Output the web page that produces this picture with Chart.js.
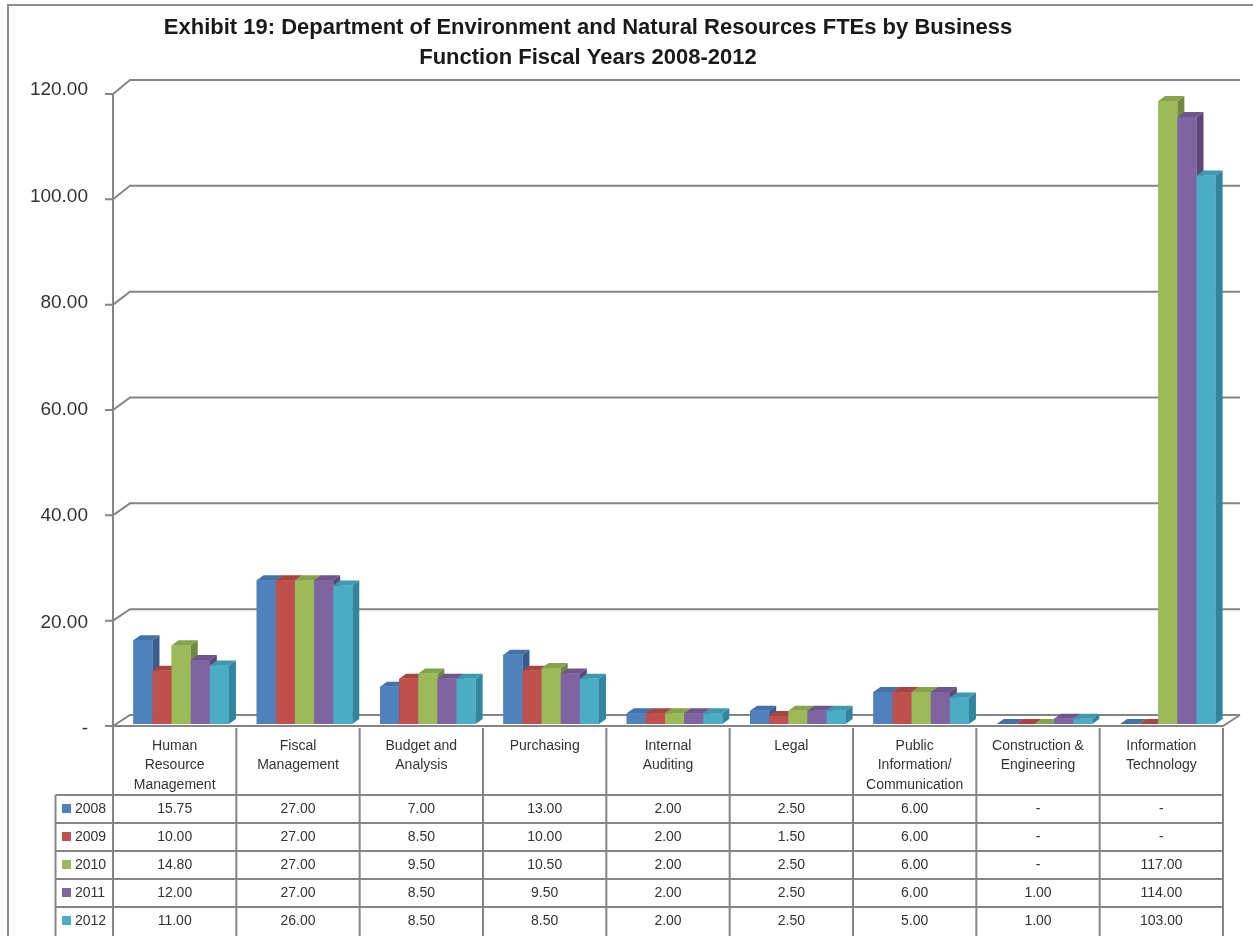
<!DOCTYPE html>
<html>
<head>
<meta charset="utf-8">
<script src="https://cdn.jsdelivr.net/npm/chart.js@4.4.1/dist/chart.umd.min.js"></script>
<style>
  body { margin: 0; background: #fff; }
</style>
</head>
<body>
<canvas id="fte" width="1253" height="936"></canvas>
<script>
const categories = [
  ["Human", "Resource", "Management"],
  ["Fiscal", "Management"],
  ["Budget and", "Analysis"],
  ["Purchasing"],
  ["Internal", "Auditing"],
  ["Legal"],
  ["Public", "Information/", "Communication"],
  ["Construction &", "Engineering"],
  ["Information", "Technology"]
];
const years = ["2008", "2009", "2010", "2011", "2012"];
const fte2008 = [15.75, 27, 7, 13, 2, 2.5, 6, 0, 0];
const fte2009 = [10, 27, 8.5, 10, 2, 1.5, 6, 0, 0];
const fte2010 = [14.8, 27, 9.5, 10.5, 2, 2.5, 6, 0, 117];
const fte2011 = [12, 27, 8.5, 9.5, 2, 2.5, 6, 1, 114];
const fte2012 = [11, 26, 8.5, 8.5, 2, 2.5, 5, 1, 103];
const yMax = 120;
const yStep = 20;

const titleLines = [
  "Exhibit 19: Department of Environment and Natural Resources FTEs by Business",
  "Function Fiscal Years 2008-2012"
];

const fronts = ["#4f81bd", "#c0504d", "#9bbb59", "#8064a2", "#4bacc6"];
const sides = ["#385d8a", "#8c3a38", "#71893f", "#5c4776", "#31859c"];
const tops = ["#4471a8", "#a84542", "#86a34c", "#6e568c", "#3f98b0"];

const series = [fte2008, fte2009, fte2010, fte2011, fte2012];
const LINE = "#858585";
const TEXT = "#333";
const DX = 7, DY = -5;

function fmt(v) {
  return v === 0 ? "-" : v.toFixed(2);
}

// back wall / front edge of the 3d box, both taken from the y scale
function backY(y, v) { return y.getPixelForValue(v) - 9 + 4 * v / yMax; }
function frontY(y, v) { return y.getPixelForValue(v) + 2 + 7 * v / yMax; }

const box3d = {
  id: "box3d",
  beforeDatasetsDraw(chart) {
    const { ctx, chartArea: a, scales: { y } } = chart;
    const fl = a.left - 6.5, bl = a.left + 10.5;
    const fr = a.right - 6.5, br = a.right + 10.5;
    ctx.save();
    ctx.strokeStyle = LINE;
    ctx.lineWidth = 2;
    ctx.beginPath();
    for (let v = 0; v <= yMax; v += yStep) {
      const yb = backY(y, v), yf = frontY(y, v);
      ctx.moveTo(fl - 8, yf);
      ctx.lineTo(fl, yf);
      ctx.lineTo(bl, yb);
      ctx.lineTo(br, yb);
    }
    // left front axis
    ctx.moveTo(fl, frontY(y, yMax));
    ctx.lineTo(fl, chart.height);
    // floor front edge and right corner
    ctx.moveTo(fl, frontY(y, 0));
    ctx.lineTo(fr, frontY(y, 0));
    ctx.lineTo(br, backY(y, 0));
    ctx.stroke();
    ctx.restore();
  },
  // chart.js paints the last dataset first, so repaint the bars left to right
  // with their side and top faces so each front hides the previous side
  afterDatasetsDraw(chart) {
    const { ctx } = chart;
    ctx.save();
    series.forEach((s, i) => {
      chart.getDatasetMeta(i).data.forEach(bar => {
        const l = bar.x - bar.width / 2, r = bar.x + bar.width / 2;
        const t = bar.y, b = bar.base;
        ctx.fillStyle = sides[i];
        ctx.beginPath();
        ctx.moveTo(r, t);
        ctx.lineTo(r + DX, t + DY);
        ctx.lineTo(r + DX, b + DY);
        ctx.lineTo(r, b);
        ctx.closePath();
        ctx.fill();
        ctx.fillStyle = tops[i];
        ctx.beginPath();
        ctx.moveTo(l, t);
        ctx.lineTo(l + DX, t + DY);
        ctx.lineTo(r + DX, t + DY);
        ctx.lineTo(r, t);
        ctx.closePath();
        ctx.fill();
        ctx.fillStyle = fronts[i];
        ctx.fillRect(l, t, r - l, b - t);
      });
    });
    ctx.restore();
  },
  afterDraw(chart) {
    const { ctx, scales: { x, y } } = chart;
    ctx.save();
    // outer frame
    ctx.strokeStyle = "#8c8c8c";
    ctx.lineWidth = 2;
    ctx.beginPath();
    ctx.moveTo(8, chart.height);
    ctx.lineTo(8, 5);
    ctx.lineTo(chart.width, 5);
    ctx.stroke();

    // title
    ctx.fillStyle = "#1a1a1a";
    ctx.font = 'bold 22px "Liberation Sans", Arial, sans-serif';
    ctx.textAlign = "center";
    ctx.textBaseline = "middle";
    ctx.fillText(titleLines[0], 588, 28);
    ctx.fillText(titleLines[1], 588, 58);

    // data table
    const colW = x.getPixelForValue(1) - x.getPixelForValue(0);
    const left0 = x.getPixelForValue(0) - colW / 2 - 6.5;
    const right0 = left0 + colW * categories.length;
    const legL = 55.5;
    const headTop = frontY(y, 0) + 2;
    const headBot = headTop + 67;
    const rowH = 28;

    ctx.strokeStyle = LINE;
    ctx.lineWidth = 2;
    ctx.beginPath();
    for (let c = 0; c <= categories.length; c++) {
      const xx = left0 + c * colW;
      ctx.moveTo(xx, headTop);
      ctx.lineTo(xx, chart.height);
    }
    ctx.moveTo(legL, headBot);
    ctx.lineTo(legL, chart.height);
    for (let r = 0; r < years.length; r++) {
      const yy = headBot + r * rowH;
      ctx.moveTo(legL, yy);
      ctx.lineTo(right0, yy);
    }
    ctx.stroke();

    ctx.fillStyle = TEXT;
    ctx.font = '14px "Liberation Sans", Arial, sans-serif';
    ctx.textAlign = "center";
    categories.forEach((lines, c) => {
      const cx = left0 + (c + 0.5) * colW;
      lines.forEach((ln, k) => ctx.fillText(ln, cx, headTop + 18 + k * 19.5));
      series.forEach((s, r) => {
        ctx.fillText(fmt(s[c]), cx, headBot + r * rowH + 14);
      });
    });
    years.forEach((yr, r) => {
      const cy = headBot + r * rowH + 14;
      ctx.fillStyle = fronts[r];
      ctx.fillRect(62, cy - 5, 9, 9);
      ctx.fillStyle = TEXT;
      ctx.textAlign = "left";
      ctx.fillText(yr, 75, cy);
    });
    ctx.restore();
  }
};

new Chart(document.getElementById("fte"), {
  type: "bar",
  data: {
    labels: categories.map(c => c.join(" ")),
    datasets: years.map((yr, i) => ({
      label: yr,
      data: series[i],
      backgroundColor: fronts[i],
      borderWidth: 0
    }))
  },
  options: {
    responsive: false,
    animation: false,
    layout: { padding: { top: 85, bottom: 212, left: 0, right: 23.5 } },
    datasets: {
      bar: { barPercentage: 1, categoryPercentage: 0.775 }
    },
    scales: {
      x: { display: false },
      y: {
        min: 0,
        max: yMax,
        afterFit: s => { s.width = 119.5; },
        grid: { display: false, drawTicks: false },
        border: { display: false },
        ticks: {
          stepSize: yStep,
          padding: 31.5,
          labelOffset: 5,
          color: TEXT,
          font: { family: '"Liberation Sans", Arial, sans-serif', size: 19 },
          callback: v => fmt(v)
        }
      }
    },
    plugins: {
      legend: { display: false },
      tooltip: { enabled: false },
      title: { display: false }
    }
  },
  plugins: [box3d]
});
</script>
</body>
</html>
